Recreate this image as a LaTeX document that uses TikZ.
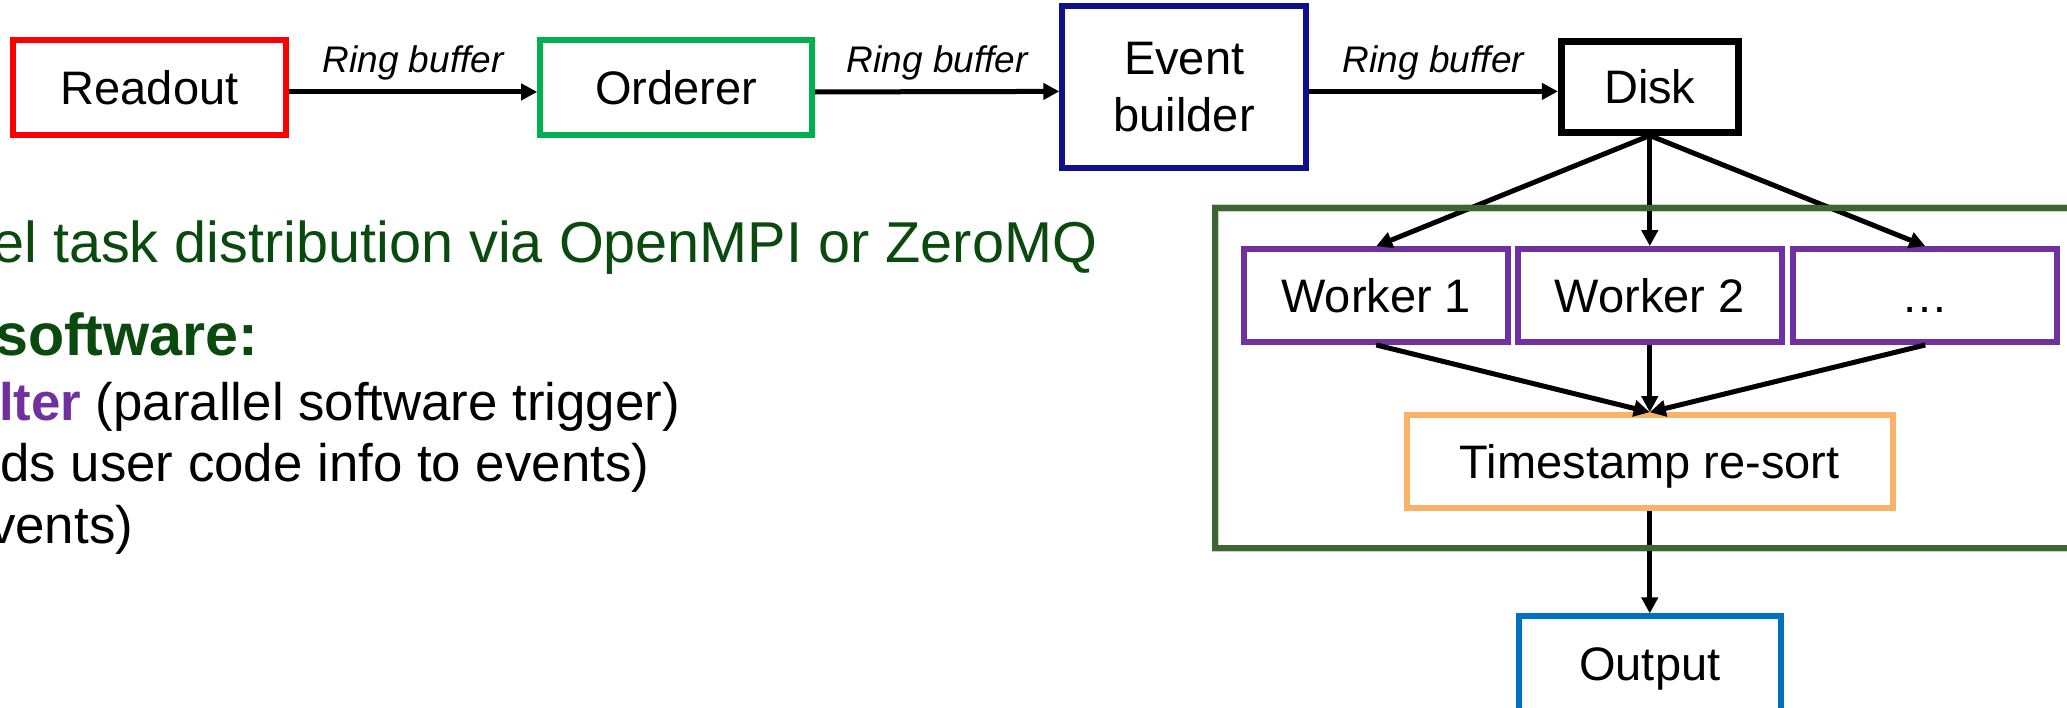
\documentclass[tikz,border=0pt]{standalone}
\usepackage{fontspec}
\setmainfont{Liberation Sans}
\usetikzlibrary{arrows.meta}

\definecolor{rdRed}{RGB}{255,0,0}
\definecolor{ordGreen}{RGB}{0,176,80}
\definecolor{ebNavy}{RGB}{16,16,140}
\definecolor{wkPurple}{RGB}{112,48,160}
\definecolor{tsOrange}{RGB}{250,178,104}
\definecolor{outBlue}{RGB}{0,112,192}
\definecolor{frameGreen}{RGB}{62,102,50}
\definecolor{noteGreen}{RGB}{10,74,14}

\tikzset{
  box/.style={draw, line width=2.9pt, fill=white, inner sep=0pt, align=center,
    font=\fontsize{23.5}{28.2}\selectfont},
  oneline/.style={text height=16.8pt, text depth=0pt},
  lab/.style={font=\fontsize{18.5}{22}\selectfont\itshape, inner sep=0pt, anchor=base},
  flow/.style={line width=2.5pt, -{Triangle[length=8pt,width=8pt]}},
  note/.style={anchor=base west, inner sep=0pt, font=\fontsize{26.4}{31}\selectfont},
  head/.style={anchor=base west, inner sep=0pt, text=noteGreen},
}

\begin{document}
\begin{tikzpicture}[x=0.659pt,y=-0.659pt]
\useasboundingbox (0,0) rectangle (1568,537);
\clip (0,0) rectangle (1568,537);

% frame corners of the worker pool
\coordinate (fTL) at (921.9,157.8);
\coordinate (fBR) at (1640,415.8);

% soft shadow of the worker pool frame
\begin{scope}[shift={(1.2,3.2)}]
  \draw[black!20, line width=3.6pt] (fTL) rectangle (fBR);
\end{scope}

% pipeline stages
\node[box, oneline, draw=rdRed, minimum width=136.4pt, minimum height=47.4pt] (readout) at (113.5,66.4) {Readout};
\node[box, oneline, draw=ordGreen, minimum width=136pt, minimum height=47.4pt] (orderer) at (512.9,66.4) {Orderer};
\node[box, draw=ebNavy, minimum width=121.9pt, minimum height=81.1pt] (evb) at (898.3,66) {Event\\builder};
\node[box, oneline, draw=black, line width=3.5pt, minimum width=88.3pt, minimum height=45pt] (disk) at (1251.5,66) {Disk};

% workers and collection
\node[box, oneline, draw=wkPurple, minimum width=132pt, minimum height=46.5pt] (w1) at (1044,224.2) {Worker 1};
\node[box, oneline, draw=wkPurple, minimum width=132pt, minimum height=46.5pt] (w2) at (1251.5,224.2) {Worker 2};
\node[box, oneline, draw=wkPurple, minimum width=132pt, minimum height=46.5pt] (w3) at (1460.5,224.2) {…};
\node[box, oneline, draw=tsOrange, minimum width=243pt, minimum height=46.5pt] (ts) at (1251.5,350.2) {Timestamp re-sort};
\node[box, oneline, draw=outBlue, minimum width=131pt, minimum height=47.4pt] (out) at (1251.5,503.5) {Output};

% ring buffer links
\draw[flow] ([yshift=-2.2pt]readout.east) -- node[lab, yshift=9.5pt] (rb1) {Ring buffer} ([yshift=-2.2pt]orderer.west);
\draw[flow] ([yshift=-2.2pt]orderer.east) -- node[lab, yshift=9.5pt] (rb2) {Ring buffer} ([yshift=-2.2pt]evb.west);
\draw[flow] ([yshift=-2.2pt]evb.east) -- node[lab, yshift=9.5pt] (rb3) {Ring buffer} ([yshift=-2.2pt]disk.west);

% task distribution
\draw[flow] (disk.south) -- (w1.north);
\draw[flow] (disk.south) -- (w2.north);
\draw[flow] (disk.south) -- (w3.north);
\draw[flow] (w1.south) -- (ts.north);
\draw[flow] (w2.south) -- (ts.north);
\draw[flow] (w3.south) -- (ts.north);
\draw[flow] (ts.south) -- (out.north);

% worker pool frame
\draw[frameGreen, line width=3.2pt] (fTL) rectangle (fBR);

% notes on the left
\node[head, font=\fontsize{28.8}{34}\selectfont] (par) at (-6.1,199) {el task distribution via OpenMPI or ZeroMQ};
\node[head, font=\fontsize{29.6}{35}\selectfont\bfseries] (sw) at (-4,269.4) {software:};
\node[note] (flt) at (-1,318.7) {\textcolor{wkPurple}{\bfseries lter} (parallel software trigger)};
\node[note] (usr) at (0,365.5) {ds user code info to events)};
\node[note] (evs) at (-8.5,412) {vents)};
\end{tikzpicture}
\end{document}
